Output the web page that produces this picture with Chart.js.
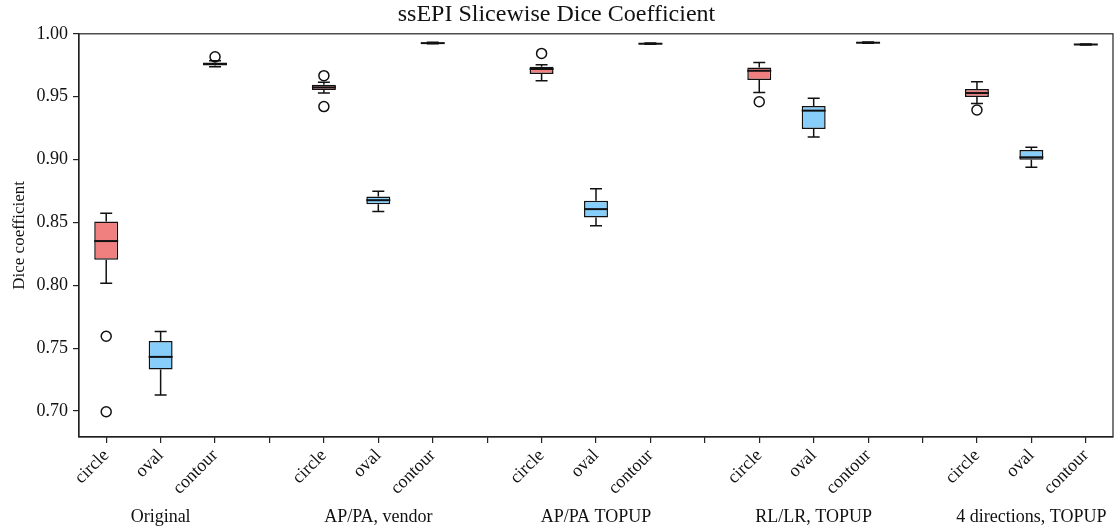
<!DOCTYPE html>
<html>
<head>
<meta charset="utf-8">
<script src="https://cdn.jsdelivr.net/npm/chart.js@4.4.1/dist/chart.umd.min.js"></script>
<style>
  html, body { margin: 0; padding: 0; background: #fff; }
  #wrap { width: 1115px; height: 529px; }
</style>
</head>
<body>
<div id="wrap"><canvas id="boxChart"></canvas></div>
<script>
// Kategori (kolom kosong = pemisah antar grup)
const labels = ['circle', 'oval', 'contour', '',
                'circle', 'oval', 'contour', '',
                'circle', 'oval', 'contour', '',
                'circle', 'oval', 'contour', '',
                'circle', 'oval', 'contour'];
const groups = ['Original', 'AP/PA, vendor', 'AP/PA TOPUP', 'RL/LR, TOPUP', '4 directions, TOPUP'];
const groupCenter = [1, 5, 9, 13, 17];

// Statistik box plot per kategori
const whiskerLow  = [0.8016, 0.7127, 0.9738, null, 0.9529, 0.8587, 0.9920, null, 0.9627, 0.8474, 0.9916, null, 0.9534, 0.9180, 0.9924, null, 0.9445, 0.8939, 0.9911];
const q1          = [0.8204, 0.7331, 0.9748, null, 0.9553, 0.8645, 0.9923, null, 0.9680, 0.8540, 0.9918, null, 0.9632, 0.9243, 0.9926, null, 0.9498, 0.8998, 0.9913];
const median      = [0.8352, 0.7431, 0.9760, null, 0.9574, 0.8677, 0.9926, null, 0.9720, 0.8606, 0.9921, null, 0.9706, 0.9389, 0.9929, null, 0.9529, 0.9018, 0.9915];
const q3          = [0.8508, 0.7558, 0.9772, null, 0.9595, 0.8706, 0.9929, null, 0.9738, 0.8672, 0.9924, null, 0.9733, 0.9426, 0.9932, null, 0.9561, 0.9077, 0.9917];
const whiskerHigh = [0.8574, 0.7632, 0.9785, null, 0.9614, 0.8749, 0.9932, null, 0.9754, 0.8767, 0.9927, null, 0.9772, 0.9487, 0.9934, null, 0.9619, 0.9098, 0.9919];
// Outlier (maks. dua per kategori)
const outlierA    = [0.7595, null, 0.9817, null, 0.9667, null, null, null, 0.9844, null, null, null, 0.9460, null, null, null, 0.9394, null, null];
const outlierB    = [0.6995, null, null,   null, 0.9421, null, null, null, null,   null, null, null, null,   null, null, null, null,   null, null];

const yTicks = [0.70, 0.75, 0.80, 0.85, 0.90, 0.95, 1.00];

const boxColor = { circle: '#F08080', oval: '#87CEFA', contour: '#90EE90' };
const FONT = "'Liberation Serif', 'Times New Roman', serif";
const INK = '#111';

// Plugin: kumis, median, cap, bingkai, label grup
const boxPlugin = {
    id: 'boxExtras',
    beforeDatasetsDraw(chart) {
        const { ctx, scales: { x, y } } = chart;
        ctx.save();
        ctx.strokeStyle = INK;
        ctx.lineWidth = 1.5;
        labels.forEach((lab, i) => {
            if (q1[i] == null) return;
            const px = x.getPixelForValue(i);
            ctx.beginPath();
            ctx.moveTo(px, y.getPixelForValue(q1[i]));
            ctx.lineTo(px, y.getPixelForValue(whiskerLow[i]));
            ctx.moveTo(px, y.getPixelForValue(q3[i]));
            ctx.lineTo(px, y.getPixelForValue(whiskerHigh[i]));
            ctx.stroke();
        });
        ctx.restore();
    },
    afterDatasetsDraw(chart) {
        const { ctx, chartArea: a, scales: { x, y } } = chart;
        const bars = chart.getDatasetMeta(0).data;
        ctx.save();
        ctx.strokeStyle = INK;
        labels.forEach((lab, i) => {
            if (q1[i] == null) return;
            const px = x.getPixelForValue(i);
            const w = bars[i].width;
            // median
            ctx.lineWidth = 2;
            const my = y.getPixelForValue(median[i]);
            ctx.beginPath();
            ctx.moveTo(px - w / 2, my);
            ctx.lineTo(px + w / 2, my);
            ctx.stroke();
            // cap
            ctx.lineWidth = 1.5;
            ctx.beginPath();
            [whiskerLow[i], whiskerHigh[i]].forEach(v => {
                const cy = y.getPixelForValue(v);
                ctx.moveTo(px - w / 4, cy);
                ctx.lineTo(px + w / 4, cy);
            });
            ctx.stroke();
        });
        // bingkai
        ctx.lineWidth = 1.2;
        ctx.strokeStyle = '#222';
        ctx.strokeRect(a.left, a.top, a.right - a.left, a.bottom - a.top);
        // label grup
        ctx.fillStyle = INK;
        ctx.font = '18px ' + FONT;
        ctx.textAlign = 'center';
        ctx.textBaseline = 'middle';
        groups.forEach((g, k) => {
            ctx.fillText(g, x.getPixelForValue(groupCenter[k]), 517);
        });
        ctx.restore();
    }
};

const ctx = document.getElementById('boxChart').getContext('2d');
const chart = new Chart(ctx, {
    type: 'bar',
    data: {
        labels: labels,
        datasets: [{
            label: 'box',
            data: q1.map((v, i) => v == null ? null : [q1[i], q3[i]]),
            backgroundColor: labels.map(l => boxColor[l] || 'transparent'),
            borderColor: INK,
            borderWidth: 1.5,
            borderSkipped: false,
            categoryPercentage: 1,
            barPercentage: 0.44,
            order: 2
        }, {
            type: 'line',
            label: 'outlier A',
            data: outlierA,
            showLine: false,
            pointStyle: 'circle',
            pointRadius: 5,
            pointBorderWidth: 1.5,
            pointBorderColor: INK,
            pointBackgroundColor: 'transparent',
            order: 1
        }, {
            type: 'line',
            label: 'outlier B',
            data: outlierB,
            showLine: false,
            pointStyle: 'circle',
            pointRadius: 5,
            pointBorderWidth: 1.5,
            pointBorderColor: INK,
            pointBackgroundColor: 'transparent',
            order: 1
        }]
    },
    options: {
        responsive: true,
        maintainAspectRatio: false,
        animation: false,
        layout: { autoPadding: false, padding: { left: 0, right: 2, top: 0, bottom: 0 } },
        plugins: {
            legend: { display: false },
            tooltip: { enabled: false },
            title: {
                display: true,
                text: 'ssEPI Slicewise Dice Coefficient',
                color: INK,
                font: { family: FONT, size: 24, weight: 'normal', lineHeight: 1.2 },
                padding: { top: 0, bottom: 5 }
            }
        },
        scales: {
            x: {
                offset: true,
                grid: { display: true, offset: false, drawOnChartArea: false, drawTicks: true, tickLength: 6, color: '#222', lineWidth: 1.2 },
                border: { display: true, color: '#222', width: 1.2 },
                ticks: { autoSkip: false, minRotation: 45, maxRotation: 45, padding: 2, color: INK, font: { family: FONT, size: 18 } },
                afterFit: s => { s.height = 92; }
            },
            y: {
                min: 0.6794,
                max: 1.0,
                afterBuildTicks: s => { s.ticks = yTicks.map(v => ({ value: v })); },
                grid: { display: true, drawOnChartArea: false, drawTicks: true, tickLength: 6, color: '#222', lineWidth: 1.2 },
                border: { display: true, color: '#222', width: 1.2 },
                ticks: { padding: 5, color: INK, font: { family: FONT, size: 18 }, callback: v => Number(v).toFixed(2) },
                title: { display: true, text: 'Dice coefficient', color: INK, font: { family: FONT, size: 17 }, padding: { top: 9, bottom: 2 } },
                afterFit: s => { s.width = 79; }
            }
        }
    },
    plugins: [boxPlugin]
});
</script>
</body>
</html>
